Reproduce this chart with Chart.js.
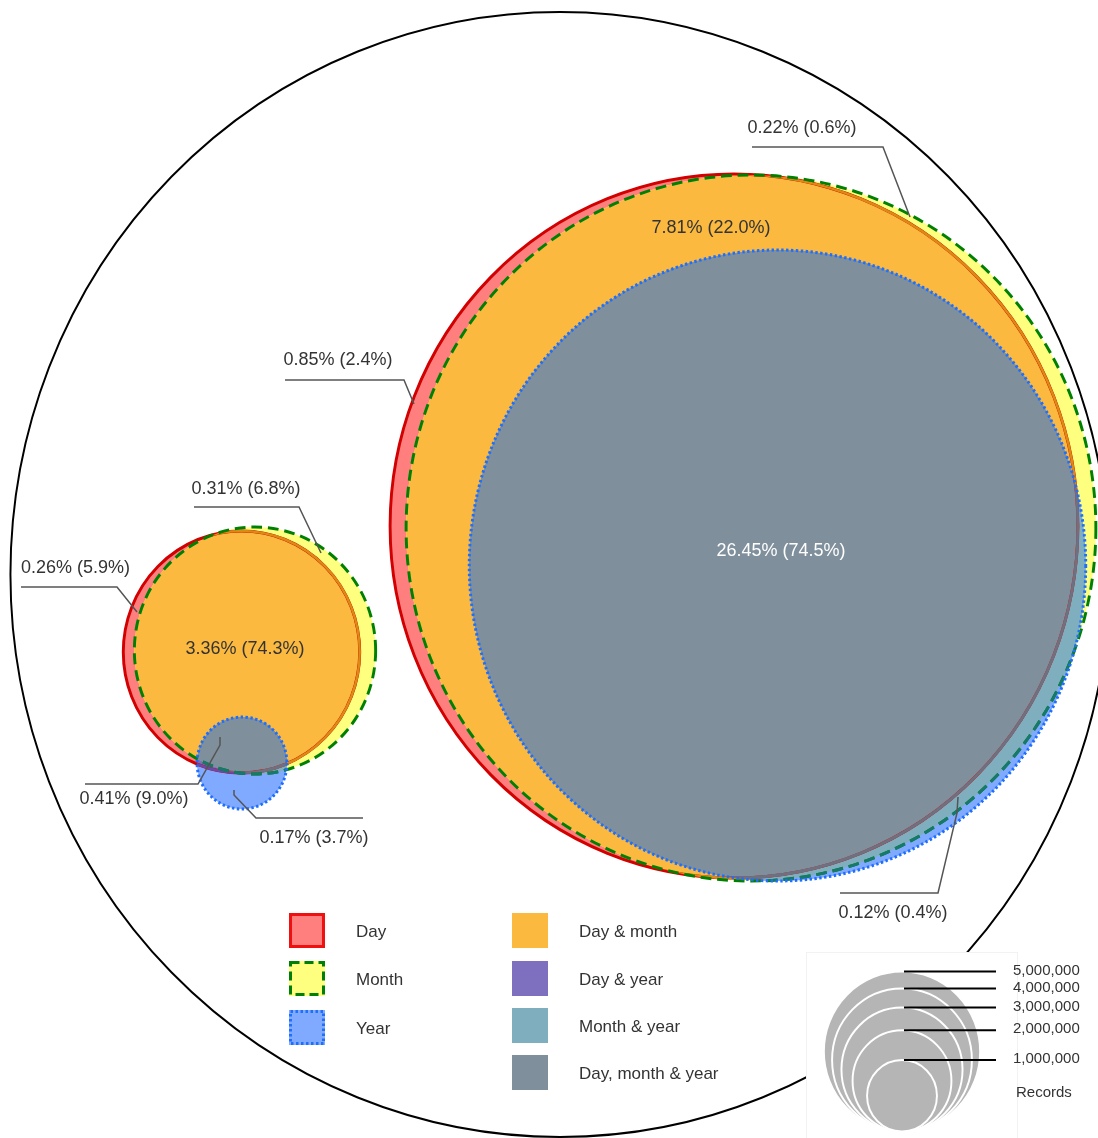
<!DOCTYPE html>
<html>
<head>
<meta charset="utf-8">
<script src="https://cdn.jsdelivr.net/npm/chart.js@4.4.1/dist/chart.umd.min.js"></script>
<style>
  html, body { margin: 0; padding: 0; background: #fff; }
  #wrap { position: relative; width: 1098px; height: 1138px; }
</style>
</head>
<body>
<div id="wrap"><canvas id="venn" width="1098" height="1138"></canvas></div>
<script>
/* Euler diagram: records with day / month / year filled in, two groups */

// region shares: % of all records and % within the group
const regionNames = ['Month', 'Day & month', 'Day', 'Day, month & year', 'Month & year',
                     'Month', 'Day', 'Day & month', 'Day, month & year', 'Year'];
const pctAll   = [0.22, 7.81, 0.85, 26.45, 0.12, 0.31, 0.26, 3.36, 0.41, 0.17];
const pctGroup = [0.6, 22.0, 2.4, 74.5, 0.4, 6.8, 5.9, 74.3, 9.0, 3.7];

// size key
const sizeValues = [5000000, 4000000, 3000000, 2000000, 1000000];
const sizeTitle = 'Records';

// legend entries
const legendNames = ['Day', 'Month', 'Year', 'Day & month', 'Day & year', 'Month & year', 'Day, month & year'];

// set outlines in chart units (small group, large group)
const dayX = [241.5, 734],  dayY = [652, 526],     dayR = [121, 352];
const monthX = [255, 751],  monthY = [650.5, 528], monthR = [123.5, 353];
const yearX = [242, 777.5], yearY = [763, 565.5],  yearR = [46, 315.5];
const allX = [560], allY = [574.5], allR = [562.5];

// layout of labels, leaders, legend, key
const labelX = [802, 711, 338, 781, 893, 246, 75.5, 245, 134, 314];
const labelY = [128, 228, 360, 551, 913, 489, 568, 649, 799, 838];
const leaders = [
    [[752, 147], [883, 147], [910, 217]],
    null,
    [[285, 380], [404, 380], [414, 404]],
    null,
    [[840, 893], [938, 893], [957, 813], [958, 797]],
    [[194, 507], [299, 507], [321, 553]],
    [[21, 587], [117, 587], [137, 612]],
    null,
    [[220, 737], [220, 745], [198, 784], [85, 784]],
    [[234, 790], [234, 795], [256, 818], [363, 818]]
];
const legendX = [289, 289, 289, 512, 512, 512, 512];
const legendY = [913, 961, 1010, 913, 961, 1008, 1055];
const keyCX = 902, keyBottom = 1131.5, keyMaxR = 80;

const W = 1098, H = 1138;
const ASPECT = 0.977; // the drawing is slightly squeezed horizontally

const fillDay = '#ff7f7f', fillMonth = '#ffff7f', fillYear = '#7faaff';
const fillDM = '#fbb940', fillDY = '#7f6fbf', fillMY = '#7fafbf', fillDMY = '#7f8f9b';
const legendFill = [fillDay, fillMonth, fillYear, fillDM, fillDY, fillMY, fillDMY];
const legendEdge = ['#f01010', '#008000', '#1f6fff', null, null, null, null];
const legendDash = [[], [9, 5], [2.5, 2.5], [], [], [], []];

const FONT = '"Liberation Sans", Arial, sans-serif';

function circles(xs, ys) {
    return xs.map((x, i) => ({ x: x, y: ys[i] }));
}

function unitRadius(c) {
    const y = c.chart.scales.y;
    return Math.abs(y.getPixelForValue(c.dataset.radii[c.dataIndex]) - y.getPixelForValue(0));
}

function layer(label, xs, ys, rs, style) {
    return Object.assign({
        label: label,
        data: circles(xs, ys),
        radii: rs,
        clip: false,
        pointRadius: unitRadius,
        pointBackgroundColor: 'rgba(0,0,0,0)',
        pointBorderColor: 'rgba(0,0,0,0)',
        pointBorderWidth: 0
    }, style);
}

const keyR = sizeValues.map(v => keyMaxR * Math.sqrt(v / sizeValues[0]));

const layers = [
    layer('All records', allX, allY, allR, { pointBackgroundColor: '#fff', pointBorderColor: '#000', pointBorderWidth: 2 }),
    layer('Day', dayX, dayY, dayR, { key: 'day', pointBackgroundColor: fillDay }),
    layer('Month', monthX, monthY, monthR, { key: 'month', pointBackgroundColor: fillMonth }),
    layer('Year', yearX, yearY, yearR, { key: 'year', pointBackgroundColor: fillYear }),
    layer('Day & month', monthX, monthY, monthR, { clipTo: ['day'], pointBackgroundColor: fillDM }),
    layer('Day & year', yearX, yearY, yearR, { clipTo: ['day'], pointBackgroundColor: fillDY }),
    layer('Month & year', yearX, yearY, yearR, { clipTo: ['month'], pointBackgroundColor: fillMY }),
    layer('Day, month & year', yearX, yearY, yearR, { clipTo: ['day', 'month'], pointBackgroundColor: fillDMY }),
    // edges
    layer('Day edge', dayX, dayY, dayR, { pointBorderColor: '#d20000', pointBorderWidth: 3 }),
    layer('Day edge (month)', dayX, dayY, dayR, { clipTo: ['month'], pointBorderColor: '#dc8a14', pointBorderWidth: 2.5 }),
    layer('Day edge (year)', dayX, dayY, dayR, { clipTo: ['year'], pointBorderColor: '#6a4aa8', pointBorderWidth: 2.5 }),
    layer('Day edge (month & year)', dayX, dayY, dayR, { clipTo: ['month', 'year'], pointBorderColor: '#6d7280', pointBorderWidth: 2.5 }),
    layer('Month edge', monthX, monthY, monthR, { dash: [11, 6], pointBorderColor: '#008000', pointBorderWidth: 3 }),
    layer('Month edge (year)', monthX, monthY, monthR, { clipTo: ['year'], dash: [11, 6], pointBorderColor: '#17786c', pointBorderWidth: 3 }),
    layer('Year edge', yearX, yearY, yearR, { dash: [2.5, 2.5], pointBorderColor: '#1f6fff', pointBorderWidth: 3 }),
    // size key
    layer(sizeTitle, keyR.map(() => keyCX), keyR.map(r => keyBottom - r), keyR,
          { backdrop: true, pointBackgroundColor: '#b5b5b5', pointBorderColor: '#fff', pointBorderWidth: 2 })
];
// first in list is drawn first
layers.forEach((d, i) => { d.order = layers.length - i; });

function px(chart, u) { return ASPECT * chart.scales.x.getPixelForValue(u); }
function py(chart, v) { return chart.scales.y.getPixelForValue(v); }

function setPath(chart, ctx, key) {
    const idx = chart.data.datasets.findIndex(d => d.key === key);
    const meta = chart.getDatasetMeta(idx);
    ctx.beginPath();
    meta.data.forEach(el => {
        const r = el.options.radius;
        ctx.moveTo(el.x + r, el.y);
        ctx.arc(el.x, el.y, r, 0, Math.PI * 2);
    });
}

const vennPlugin = {
    id: 'venn',
    beforeDatasetDraw(chart, args) {
        const ds = chart.data.datasets[args.index];
        const ctx = chart.ctx;
        ctx.save();
        if (ds.backdrop) {
            ctx.fillStyle = '#fff';
            ctx.fillRect(806, 952, 212, 190);
            ctx.strokeStyle = '#f2f2f2';
            ctx.lineWidth = 1;
            ctx.strokeRect(806.5, 952.5, 211, 190);
        }
        ctx.scale(ASPECT, 1);
        (ds.clipTo || []).forEach(key => {
            setPath(chart, ctx, key);
            ctx.clip();
        });
        if (ds.dash) ctx.setLineDash(ds.dash);
    },
    afterDatasetDraw(chart) {
        chart.ctx.restore();
    },
    afterDatasetsDraw(chart) {
        const ctx = chart.ctx;
        ctx.save();

        // leaders
        ctx.strokeStyle = '#555';
        ctx.lineWidth = 1.5;
        leaders.forEach(pts => {
            if (!pts) return;
            ctx.beginPath();
            pts.forEach((p, j) => {
                const x = px(chart, p[0]), y = py(chart, p[1]);
                if (j === 0) ctx.moveTo(x, y); else ctx.lineTo(x, y);
            });
            ctx.stroke();
        });

        // region labels
        ctx.font = '18px ' + FONT;
        ctx.textAlign = 'center';
        ctx.textBaseline = 'middle';
        pctAll.forEach((v, i) => {
            ctx.fillStyle = regionNames[i] === 'Day, month & year' && i === 3 ? '#fff' : '#333';
            ctx.fillText(v.toFixed(2) + '% (' + pctGroup[i].toFixed(1) + '%)', px(chart, labelX[i]), py(chart, labelY[i]));
        });

        // legend
        ctx.font = '17px ' + FONT;
        ctx.textAlign = 'left';
        legendNames.forEach((name, i) => {
            const x = px(chart, legendX[i]), y = py(chart, legendY[i]);
            ctx.fillStyle = legendFill[i];
            ctx.fillRect(x, y, 36, 35);
            if (legendEdge[i]) {
                ctx.save();
                ctx.strokeStyle = legendEdge[i];
                ctx.lineWidth = 3;
                ctx.setLineDash(legendDash[i]);
                ctx.strokeRect(x + 1.5, y + 1.5, 33, 32);
                ctx.restore();
            }
            ctx.fillStyle = '#333';
            ctx.fillText(name, x + 67, y + 19);
        });

        // size key lines and labels
        const keyMeta = chart.getDatasetMeta(chart.data.datasets.length - 1);
        ctx.font = '15px ' + FONT;
        keyMeta.data.forEach((el, i) => {
            const x = ASPECT * el.x;
            const top = el.y - el.options.radius;
            ctx.strokeStyle = '#000';
            ctx.lineWidth = 2;
            ctx.beginPath();
            ctx.moveTo(x + 2, top);
            ctx.lineTo(px(chart, 996), top);
            ctx.stroke();
            ctx.fillStyle = '#333';
            ctx.fillText(sizeValues[i].toLocaleString('en-US'), px(chart, 1013), top - 1);
        });
        ctx.fillText(sizeTitle, px(chart, 1016), py(chart, 1093));
        ctx.restore();
    }
};

new Chart(document.getElementById('venn').getContext('2d'), {
    type: 'scatter',
    data: { datasets: layers },
    options: {
        responsive: false,
        animation: false,
        events: [],
        devicePixelRatio: 1,
        layout: { padding: 0, autoPadding: false },
        plugins: { legend: { display: false }, tooltip: { enabled: false } },
        scales: {
            x: { type: 'linear', min: 0, max: W * ASPECT, display: false },
            y: { type: 'linear', min: 0, max: H, reverse: true, display: false }
        }
    },
    plugins: [vennPlugin]
});
</script>
</body>
</html>
